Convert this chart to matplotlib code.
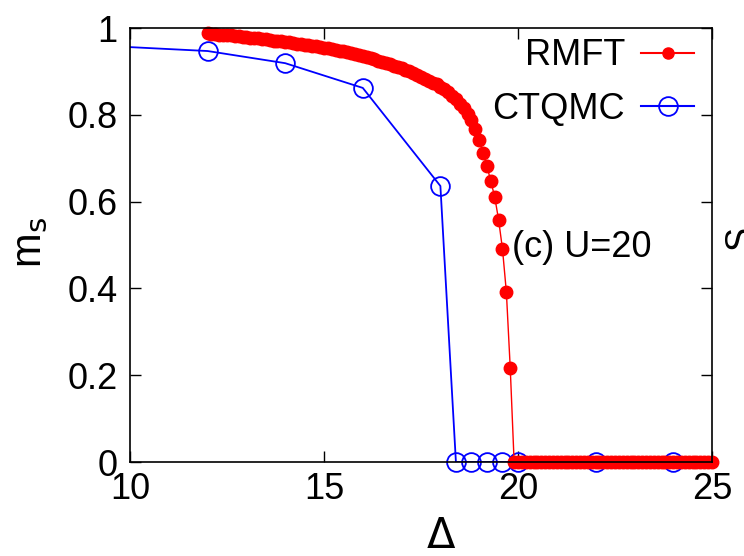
import matplotlib
matplotlib.use("Agg")
import matplotlib.pyplot as plt
import numpy as np

plt.rcParams['font.family'] = ['Liberation Sans', 'DejaVu Sans']

# RMFT data (dense, step 0.1)
rmft_x = np.round(np.arange(12.0, 25.05, 0.1), 2)
rmft_m = [0.988, 0.987, 0.986, 0.985, 0.984, 0.984, 0.983, 0.982, 0.981, 0.980,
          0.979, 0.978, 0.977, 0.976, 0.975, 0.974, 0.972, 0.971, 0.970, 0.969,
          0.968, 0.967, 0.965, 0.964, 0.963, 0.962, 0.960, 0.959, 0.958, 0.956,
          0.955, 0.953, 0.951, 0.949, 0.947, 0.946, 0.944, 0.942, 0.940, 0.938,
          0.936, 0.933, 0.931, 0.928, 0.925, 0.922, 0.919, 0.916, 0.913, 0.910,
          0.907, 0.903, 0.900, 0.896, 0.892, 0.888, 0.883, 0.879, 0.874, 0.870,
          0.865, 0.859, 0.852, 0.844, 0.836, 0.826, 0.815, 0.802, 0.787, 0.767,
          0.742, 0.712, 0.682, 0.647, 0.611, 0.558, 0.491, 0.392, 0.217, 0.0] + [0.0] * 51

# CTQMC data
qmc_x = [8, 12, 14, 16, 18, 18.4, 18.8, 19.2, 19.6, 20, 22, 24]
qmc_m = [0.965, 0.947, 0.919, 0.862, 0.636, 0, 0, 0, 0, 0, 0, 0]

fig = plt.figure(figsize=(7.44, 5.56), dpi=100)
ax = fig.add_axes([0.1747, 0.169, 0.7823, 0.7806])

fs = 26

# blue line clipped, markers not
ax.plot(qmc_x, qmc_m, '-', color='#0000ff', lw=1.3)
qx = np.array(qmc_x)
qm = np.array(qmc_m)
sel = qx >= 10
ax.plot(qx[sel], qm[sel], 'o', mfc='none', mec='#0000ff', mew=1.3, ms=13.5, clip_on=False)

ax.plot(rmft_x, rmft_m, '-o', color='#ff0000', lw=1.0, ms=9, mec='#ff0000', clip_on=False)

# legend handles
h1, = ax.plot([], [], '-o', color='#ff0000', lw=1.5, ms=8)
h2, = ax.plot([], [], '-o', color='#0000ff', lw=1.5, ms=13.5, mfc='none', mew=1.3)
ax.legend([h1, h2], ['RMFT', 'CTQMC'], loc='upper right', frameon=False,
          markerfirst=False, fontsize=fs, handlelength=1.45, handletextpad=0.45,
          labelspacing=0.5, borderaxespad=0.25, bbox_to_anchor=(1.009, 1.03))

ax.set_xlim(10, 25)
ax.set_ylim(0, 1)
ax.set_xticks([10, 15, 20, 25])
ax.set_xticklabels(['10', '15', '20', '25'])
ax.set_yticks([0, 0.2, 0.4, 0.6, 0.8, 1])
ax.set_yticklabels(['0', '0.2', '0.4', '0.6', '0.8', '1'])
ax.tick_params(direction='in', top=True, right=True, length=8, width=1.0,
               labelsize=fs, pad=7)
ax.tick_params(axis='y', pad=9)
for s in ax.spines.values():
    s.set_linewidth(1.2)

ax.text(19.85, 0.495, '(c) U=20', fontsize=fs, ha='left', va='center')

fig.text(441 / 744, 1 - 537 / 556, r'$\Delta$', fontsize=30, ha='center', va='center',
         math_fontfamily='dejavusans')
fig.text(30 / 744, 1 - 243 / 556, r'm$_{\rm s}$', fontsize=30, ha='center', va='center',
         rotation=90)
fig.text(723 / 744, 1 - 238 / 556, 'S', fontsize=fs, ha='left', va='center', rotation=90)

fig.savefig('out.png', dpi=100)
